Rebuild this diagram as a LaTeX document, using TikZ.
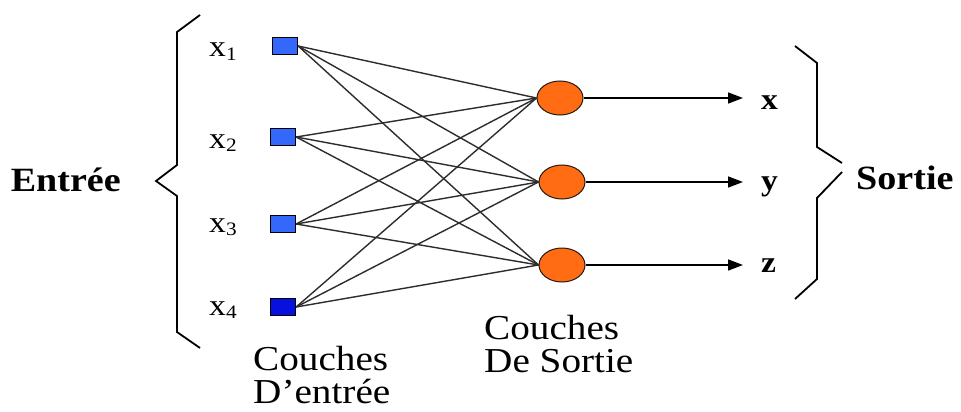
\documentclass[tikz,border=0pt]{standalone}
\usepackage{fontspec}
\setmainfont[FakeStretch=1.12]{Liberation Serif}
\usetikzlibrary{shapes.geometric,arrows.meta}
\definecolor{inblue}{RGB}{52,104,250}
\definecolor{indark}{RGB}{8,16,222}
\definecolor{outorange}{RGB}{255,108,20}
\definecolor{wire}{RGB}{45,45,45}
\newcommand{\xin}[1]{x\raisebox{-3pt}{\fontsize{19}{19}\selectfont #1}}
\tikzset{
  inbox/.style={draw=black, line width=1.3pt, minimum width=25pt, minimum height=17pt, inner sep=0pt},
  outnode/.style={ellipse, draw=black!80!brown, line width=1pt, fill=outorange, minimum width=46pt, minimum height=34pt, inner sep=0pt},
  link/.style={draw=wire, line width=1.4pt},
  outarrow/.style={draw=black, line width=1.6pt, -{Triangle[length=15pt,width=11pt]}},
  brace/.style={draw=black, line width=1.8pt, line join=miter},
  lbl/.style={font=\fontsize{30}{30}\selectfont, inner sep=0pt, anchor=base west},
  blbl/.style={font=\fontsize{34}{34}\selectfont\bfseries, inner sep=0pt},
  outlbl/.style={font=\fontsize{30}{30}\selectfont\bfseries, inner sep=0pt, anchor=base west},
  caption/.style={font=\fontsize{35}{35}\selectfont, inner sep=0pt, anchor=base west}
}
\begin{document}
\begin{tikzpicture}[x=1pt,y=-1pt]
\useasboundingbox (0,0) rectangle (961,412);
\fill[white] (0,0) rectangle (961,412);

% input layer
\node[inbox, fill=inblue] (i1) at (285,46) {};
\node[inbox, fill=inblue] (i2) at (283,137) {};
\node[inbox, fill=inblue] (i3) at (283,224) {};
\node[inbox, fill=indark] (i4) at (283,307) {};

\node[lbl] (l1) at (209,57) {\xin{1}};
\node[lbl] (l2) at (209,148) {\xin{2}};
\node[lbl] (l3) at (209,232) {\xin{3}};
\node[lbl] (l4) at (209,315) {\xin{4}};

% output layer
\node[outnode] (o1) at (560,98) {};
\node[outnode] (o2) at (562,182) {};
\node[outnode] (o3) at (562,265) {};

% full connections
\foreach \i in {1,2,3,4}
  \foreach \j in {1,2,3}
    \draw[link] (i\i.east) -- (o\j.west);

% outputs
\coordinate (e1) at (743,98);
\coordinate (e2) at (743,182);
\coordinate (e3) at (743,265);
\draw[outarrow] (o1) -- (e1);
\draw[outarrow] (o2) -- (e2);
\draw[outarrow] (o3) -- (e3);
\node[outlbl] (vx) at (761,109) {x};
\node[outlbl] (vy) at (761,190) {y};
\node[outlbl] (vz) at (761,272) {z};

% left brace
\draw[brace] (200,15) -- (177,32) -- (177,165) -- (156,181) -- (177,196) -- (177,332) -- (200,348);
\node[blbl, anchor=base east] (entree) at (121,191) {Entrée};

% right brace
\draw[brace] (795,46) -- (817,63) -- (817,147) -- (842,163);
\draw[brace] (842,172) -- (817,198) -- (817,279) -- (795,299);
\node[blbl, anchor=base west] (sortie) at (856,189) {Sortie};

% captions
\node[caption] (c1a) at (253,370) {Couches};
\node[caption] (c1b) at (253,403) {D’entrée};
\node[caption] (c2a) at (484,339) {Couches};
\node[caption] (c2b) at (484,372) {De Sortie};
\end{tikzpicture}
\end{document}
